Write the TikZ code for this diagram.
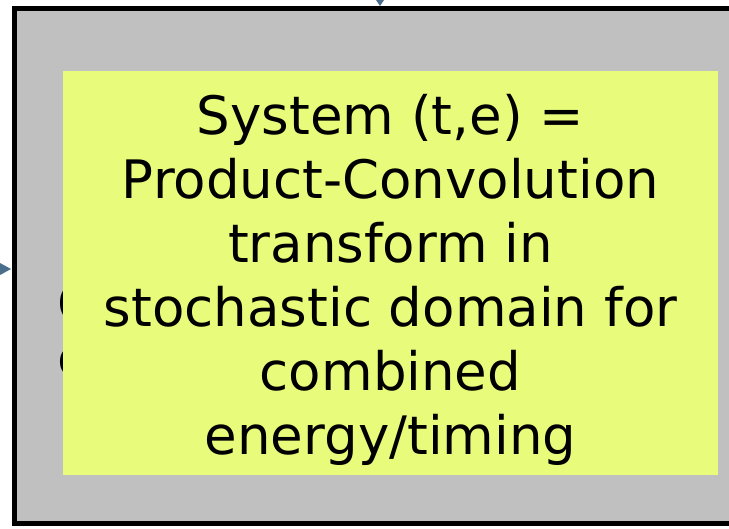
\documentclass[tikz,border=0pt]{standalone}
\usepackage{fontspec}
\setmainfont{DejaVu Sans}
\definecolor{panelgray}{HTML}{C0C0C0}
\definecolor{notefill}{HTML}{E9FB7A}
\definecolor{arrowblue}{HTML}{4A6E8C}
\begin{document}
\begin{tikzpicture}[x=1pt,y=-1pt,
  panel/.style={draw=black,line width=5pt,fill=panelgray},
  note/.style={fill=notefill,draw=none},
  bigfont/.style={font=\fontsize{53}{64}\selectfont},
  notetext/.style={bigfont,align=center,text=black},
  tip/.style={fill=arrowblue,draw=none}]
\useasboundingbox (0,0) rectangle (729,528);
% outer grey panel, running off the right edge
\draw[panel] (14.5,8.5) rectangle (760,523.5);
% text of the panel, mostly covered by the note
\node[anchor=west,bigfont,inner sep=0pt] (hidA) at (57,303) {C};
\node[anchor=west,bigfont,inner sep=0pt] (hidB) at (57,362) {c};
% incoming arrow heads
\coordinate (topin) at (380,6);
\coordinate (leftin) at (11,269);
\fill[tip] (topin) -- ++(-4,-6) -- ++(8,0) -- cycle;
\fill[tip] (leftin) -- ++(-11,-6) -- ++(0,12) -- cycle;
% note box
\node[note,minimum width=655pt,minimum height=404pt,anchor=north west] (notebox) at (63,71) {};
\node[notetext] (notetxt) at (390.5,280) {System (t,e) =\\Product-Convolution\\transform in\\stochastic domain for\\combined\\energy/timing};
\end{tikzpicture}
\end{document}
